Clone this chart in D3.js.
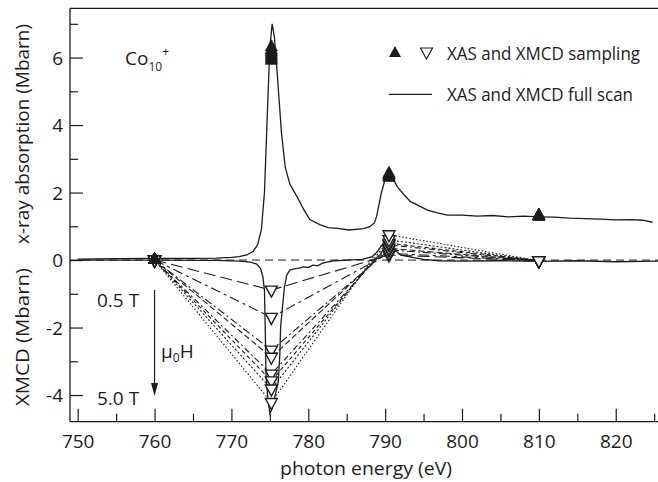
<!DOCTYPE html>
<html><head><meta charset="utf-8">
<script src="https://cdn.jsdelivr.net/npm/d3@7"></script>
<style>
body{margin:0;background:#fff;}
svg text{font-family:"Open Sans",sans-serif;fill:#1e1b1c;}
</style></head>
<body><svg id="c" width="658" height="482"></svg>
<script>
// ---- data ----
const xasEnergy = [750,755,760,765,768,770,771,772,772.8,773.4,773.9,774.3,774.7,775.0,775.3,775.6,776.0,776.5,777.0,777.6,778.6,779.4,780.2,781.5,782.6,783.8,785.3,787.2,788.0,788.6,788.9,789.5,790.0,790.3,790.8,791.6,792.4,793.3,794.5,795.5,796.8,798.1,800,802,804,806,808,810,812,814,816,818,820,822,823.5,824.8];
const xasValue  = [0.03,0.04,0.05,0.05,0.06,0.08,0.1,0.15,0.25,0.45,0.9,2.0,4.5,6.3,7.0,6.6,5.4,3.8,2.75,2.25,1.85,1.5,1.2,1.05,0.96,0.94,0.89,0.93,0.99,1.1,1.3,1.98,2.4,2.57,2.5,2.17,1.95,1.73,1.6,1.48,1.4,1.33,1.33,1.30,1.32,1.28,1.30,1.28,1.27,1.24,1.23,1.21,1.19,1.2,1.18,1.12];
const xmcdEnergy = [750,760,768,771,772.5,773.3,773.8,774.1,774.3,774.4,774.5,774.7,775.0,775.3,775.7,776.1,776.3,776.4,776.6,776.9,777.2,777.6,778.2,778.8,779.4,780.0,780.6,781.2,781.8,782.4,783.5,785,787,788.3,789.0,789.6,790.1,790.6,791.2,792,793.5,795,797,800,805,810,815,820,825.5];
const xmcdValue  = [0,0,-0.01,-0.03,-0.06,-0.12,-0.25,-0.5,-0.9,-2.0,-3.4,-4.0,-4.55,-4.4,-4.0,-3.6,-2.8,-2.0,-1.5,-0.8,-0.45,-0.3,-0.26,-0.24,-0.2,-0.22,-0.15,-0.17,-0.1,-0.06,-0.02,0,0.02,0.1,0.25,0.45,0.35,0.55,0.3,0.15,0.08,0.02,-0.02,-0.03,-0.02,-0.04,-0.02,-0.05,-0.03];
const sampleEnergy = [760,775.2,790.5,810];
const fieldNames = ["0.5 T","1.0 T","2.0 T","2.5 T","3.0 T","3.5 T","4.0 T","5.0 T"];
const xasSampling = [
  [0.02,5.92,2.45,1.30],[0.02,5.97,2.47,1.30],[0.02,6.02,2.48,1.31],[0.02,6.07,2.50,1.31],
  [0.02,6.12,2.52,1.32],[0.02,6.18,2.53,1.32],[0.02,6.24,2.55,1.33],[0.02,6.32,2.57,1.33]];
const xmcdSampling = [
  [0,-0.89,0.15,-0.02],[0,-1.70,0.20,-0.02],[0,-2.67,0.30,-0.02],[0,-2.88,0.35,-0.02],
  [0,-3.38,0.45,-0.02],[0,-3.58,0.50,-0.02],[0,-3.82,0.60,-0.02],[0,-4.22,0.75,-0.02]];
const dashStyles = ["12,5","10,4,3,4","8,3,2,3","6,3","6,3,2,3","4,3","2,2","1.5,2"];
const xTicks = [750,760,770,780,790,800,810,820];
const yTicks = [-4,-2,0,2,4,6];

// ---- scales ----
const svg = d3.select("#c");
const x = d3.scaleLinear().domain([749,825.5]).range([70,658]);
const y = d3.scaleLinear().domain([-4.79,7.46]).range([421.7,8.3]);
const ink = "#1e1b1c";

// frame line on top
svg.append("line").attr("x1",70).attr("x2",658).attr("y1",8.3).attr("y2",8.3).attr("stroke",ink).attr("stroke-width",1.2);

// axes (ticks inward)
const xAxis = d3.axisBottom(x).tickValues(d3.range(750,826,5)).tickSize(0).tickFormat("");
const gx = svg.append("g").attr("transform","translate(0,421.7)").call(xAxis);
gx.select(".domain").attr("d","M70,0H658").attr("stroke",ink).attr("stroke-width",1.3);
gx.selectAll(".tick line").attr("y2",d=>d%10===0?-13:-8).attr("stroke",ink).attr("stroke-width",1.2);
gx.selectAll(".tick").filter(d=>xTicks.includes(d)).append("text")
  .attr("y",26.5).attr("text-anchor","middle").attr("font-size",19).text(d=>d);

const yAxis = d3.axisLeft(y).tickValues(d3.range(-4,8,1)).tickSize(0).tickFormat("");
const gy = svg.append("g").attr("transform","translate(70,0)").call(yAxis);
gy.select(".domain").attr("d","M0,8.3V421.7").attr("stroke",ink).attr("stroke-width",1.3);
gy.selectAll(".tick line").attr("x2",d=>d%2===0?13:8).attr("stroke",ink).attr("stroke-width",1.2);
gy.selectAll(".tick").filter(d=>yTicks.includes(d)).append("text")
  .attr("x",-7).attr("dy","0.36em").attr("text-anchor","end").attr("font-size",19).text(d=>d);

// axis titles
svg.append("text").attr("transform","translate(29,134) rotate(-90)")
  .attr("text-anchor","middle").attr("font-size",19).attr("textLength",220).attr("lengthAdjust","spacingAndGlyphs")
  .text("x-ray absorption (Mbarn)");
svg.append("text").attr("transform","translate(29,337) rotate(-90)")
  .attr("text-anchor","middle").attr("font-size",19).attr("textLength",138).attr("lengthAdjust","spacingAndGlyphs")
  .text("XMCD (Mbarn)");
svg.append("text").attr("x",366).attr("y",475).attr("text-anchor","middle").attr("font-size",19)
  .attr("textLength",172).attr("lengthAdjust","spacingAndGlyphs").text("photon energy (eV)");

// zero dashed line
svg.append("line").attr("x1",x(749)).attr("x2",x(825.5)).attr("y1",y(0)).attr("y2",y(0))
  .attr("stroke",ink).attr("stroke-width",1).attr("stroke-dasharray","8,5");

const line = d3.line().x(d=>x(d[0])).y(d=>y(d[1]));

// XMCD sampling connecting lines
xmcdSampling.forEach((vals,i)=>{
  svg.append("path").attr("d",line(sampleEnergy.map((e,j)=>[e,vals[j]])))
    .attr("fill","none").attr("stroke",ink).attr("stroke-width",1.1).attr("stroke-dasharray",dashStyles[i]);
});

// full scans
svg.append("path").attr("d",line(xasEnergy.map((e,i)=>[e,xasValue[i]])))
  .attr("fill","none").attr("stroke",ink).attr("stroke-width",1.3);
svg.append("path").attr("d",line(xmcdEnergy.map((e,i)=>[e,xmcdValue[i]])))
  .attr("fill","none").attr("stroke",ink).attr("stroke-width",1.3);

// markers
const upTri = "M0,-7L6,4L-6,4Z", downTri = "M0,7L6,-4L-6,-4Z";
xmcdSampling.forEach(vals=>{
  sampleEnergy.forEach((e,j)=>{
    svg.append("path").attr("d",downTri).attr("transform",`translate(${x(e)},${y(vals[j])})`)
      .attr("fill","#fff").attr("stroke",ink).attr("stroke-width",1.4);
  });
});
xasSampling.forEach(vals=>{
  sampleEnergy.forEach((e,j)=>{
    svg.append("path").attr("d",upTri).attr("transform",`translate(${x(e)},${y(vals[j])})`)
      .attr("fill",ink).attr("stroke",ink).attr("stroke-width",0.8);
  });
});

// label Co10+
const co = svg.append("text").attr("x",125).attr("y",65).attr("font-size",19);
co.append("tspan").text("Co");
co.append("tspan").attr("font-size",12).attr("dy",6).text("10");
co.append("tspan").attr("font-size",12).attr("dy",-15).text("+");

// field arrow
svg.append("line").attr("x1",x(760)).attr("x2",x(760)).attr("y1",290).attr("y2",386)
  .attr("stroke",ink).attr("stroke-width",1.2);
svg.append("path").attr("d",`M${x(760)-3.5},383L${x(760)},396L${x(760)+3.5},383Z`).attr("fill",ink);
svg.append("text").attr("x",97).attr("y",306.5).attr("font-size",19).text("0.5 T");
svg.append("text").attr("x",97).attr("y",405).attr("font-size",19).text("5.0 T");
const mu = svg.append("text").attr("x",161).attr("y",358).attr("font-size",19);
mu.append("tspan").text("μ");
mu.append("tspan").attr("font-size",12).attr("dy",4).text("0");
mu.append("tspan").attr("dy",-4).text("H");

// legend
svg.append("path").attr("d",upTri).attr("transform","translate(395,53)").attr("fill",ink);
svg.append("path").attr("d",downTri).attr("transform","translate(426.5,52)").attr("fill","none").attr("stroke",ink).attr("stroke-width",1.2);
svg.append("text").attr("x",447).attr("y",59.5).attr("font-size",18)
  .attr("textLength",193).attr("lengthAdjust","spacingAndGlyphs").text("XAS and XMCD sampling");
svg.append("line").attr("x1",389).attr("x2",432).attr("y1",94.3).attr("y2",94.3).attr("stroke",ink).attr("stroke-width",1.2);
svg.append("text").attr("x",447).attr("y",101).attr("font-size",18)
  .attr("textLength",186).attr("lengthAdjust","spacingAndGlyphs").text("XAS and XMCD full scan");
</script></body></html>
